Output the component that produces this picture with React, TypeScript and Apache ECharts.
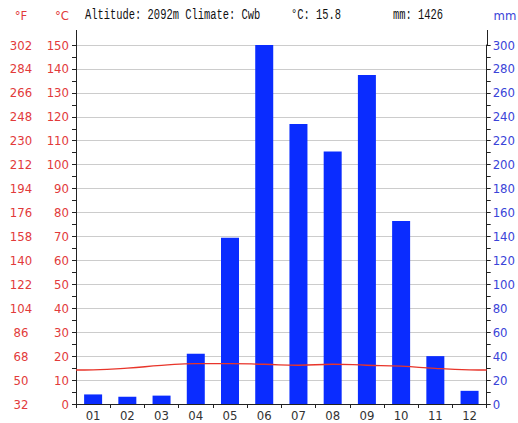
import React, { useEffect, useRef } from "react";
import * as echarts from "echarts";

const months = ["01", "02", "03", "04", "05", "06", "07", "08", "09", "10", "11", "12"];
const precipitation = [8, 6, 7, 42, 139, 300, 234, 211, 275, 153, 40, 11];
const temperature = [14.3, 15.0, 16.1, 16.9, 16.9, 16.6, 16.2, 16.6, 16.2, 15.8, 14.9, 14.3];
const tempEdgeStart = 14.2;
const tempEdgeEnd = 14.2;
const titleText = "Altitude: 2092m Climate: Cwb";
const meanTempText = "°C: 15.8";
const totalPrecText = "mm: 1426";

const RED = "#e23a3a";
const BLUE = "#3a44d8";
const LABEL_FONT = "'Liberation Sans Narrow', 'DejaVu Sans Condensed', sans-serif";
const MONO_FONT = "'Liberation Mono', 'DejaVu Sans Mono', monospace";

export default function App() {
  const ref = useRef<HTMLDivElement>(null);

  useEffect(() => {
    if (!ref.current) return;
    const chart = echarts.init(ref.current, null, { renderer: "svg" });

    const linePoints: [number, number][] = [[0, tempEdgeStart]];
    temperature.forEach((t, i) => linePoints.push([i + 0.5, t]));
    linePoints.push([12, tempEdgeEnd]);

    const headerText = (x: number, text: string, color: string, font: string, size: number, scaleX = 1, align = "left") => ({
      type: "text",
      x,
      y: 15,
      scaleX,
      style: {
        text,
        fill: color,
        font: `${size}px ${font}`,
        textAlign: align,
        textVerticalAlign: "middle",
      },
    });

    chart.setOption({
      animation: false,
      backgroundColor: "#ffffff",
      grid: { left: 76, right: 31, top: 45, bottom: 19, containLabel: false },
      xAxis: [
        {
          type: "category",
          data: months,
          boundaryGap: true,
          axisLine: { lineStyle: { color: "#222", width: 1 } },
          axisTick: { show: true, length: 4, lineStyle: { color: "#222" } },
          axisLabel: { color: "#333", fontFamily: LABEL_FONT, fontSize: 13, margin: 5 },
          splitLine: { show: false },
        },
        {
          type: "value",
          min: 0,
          max: 12,
          show: false,
        },
      ],
      yAxis: [
        {
          type: "value",
          position: "left",
          min: 0,
          max: 150,
          interval: 10,
          axisLine: { show: true, lineStyle: { color: "#222" } },
          axisTick: { show: true, length: 4, lineStyle: { color: "#222" } },
          minorTick: { show: true, splitNumber: 2, length: 4, lineStyle: { color: "#222" } },
          axisLabel: { color: RED, fontFamily: LABEL_FONT, fontSize: 13, margin: 7 },
          splitLine: { show: true, lineStyle: { color: "#cccccc", width: 1 } },
        },
        {
          type: "value",
          position: "left",
          offset: 55,
          min: 0,
          max: 150,
          interval: 10,
          axisLine: { show: false },
          axisTick: { show: false },
          axisLabel: {
            color: RED,
            fontFamily: LABEL_FONT,
            fontSize: 13,
            margin: 0,
            align: "center",
            formatter: (v: number) => String(Math.round(v * 1.8 + 32)),
          },
          splitLine: { show: false },
        },
        {
          type: "value",
          position: "right",
          min: 0,
          max: 300,
          interval: 20,
          axisLine: { show: true, lineStyle: { color: "#222" } },
          axisTick: { show: true, length: 4, lineStyle: { color: "#222" } },
          minorTick: { show: true, splitNumber: 2, length: 4, lineStyle: { color: "#222" } },
          axisLabel: { color: BLUE, fontFamily: LABEL_FONT, fontSize: 13, margin: 6 },
          splitLine: { show: false },
        },
      ],
      series: [
        {
          type: "bar",
          xAxisIndex: 0,
          yAxisIndex: 2,
          data: precipitation,
          barWidth: 18,
          itemStyle: { color: "#0a2cff" },
          z: 2,
        },
        {
          type: "line",
          xAxisIndex: 1,
          yAxisIndex: 0,
          data: linePoints,
          smooth: true,
          symbol: "none",
          lineStyle: { color: "#e8352a", width: 1.3 },
          z: 3,
        },
      ],
      graphic: [
        { type: "line", shape: { x1: 76.5, y1: 30, x2: 76.5, y2: 45 }, style: { stroke: "#222", lineWidth: 1 } },
        { type: "line", shape: { x1: 487.5, y1: 30, x2: 487.5, y2: 45 }, style: { stroke: "#222", lineWidth: 1 } },
        headerText(21, "°F", RED, LABEL_FONT, 13, 1, "center"),
        headerText(62, "°C", RED, LABEL_FONT, 13, 1, "center"),
        headerText(505, "mm", BLUE, LABEL_FONT, 13, 1, "center"),
        headerText(85, titleText, "#111", MONO_FONT, 14.5, 0.72),
        headerText(291, meanTempText, "#111", MONO_FONT, 14.5, 0.72),
        headerText(393, totalPrecText, "#111", MONO_FONT, 14.5, 0.72),
      ],
    });

    return () => chart.dispose();
  }, []);

  return (
    <div
      ref={ref}
      style={{ position: "fixed", left: 0, top: 0, width: 518, height: 423, background: "#fff" }}
    />
  );
}
